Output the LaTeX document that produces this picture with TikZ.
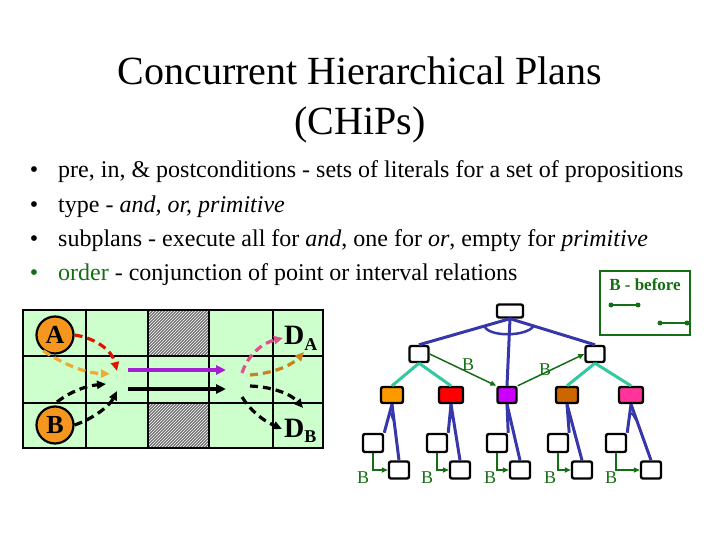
\documentclass[tikz,border=0pt]{standalone}
\usepackage{fontspec}
\setmainfont{Liberation Serif}
\usetikzlibrary{arrows.meta,patterns,calc}
\definecolor{gridgreen}{RGB}{204,255,204}
\definecolor{ordgreen}{RGB}{20,110,20}
\definecolor{treeblue}{RGB}{55,55,170}
\definecolor{teal2}{RGB}{50,200,160}
\definecolor{circorange}{RGB}{245,150,30}
\definecolor{cred}{RGB}{225,20,0}
\definecolor{corange}{RGB}{240,170,50}
\definecolor{cpink}{RGB}{225,80,140}
\definecolor{cbrown}{RGB}{200,130,30}
\definecolor{cviolet}{RGB}{165,30,210}
\definecolor{nOrange}{RGB}{255,153,0}
\definecolor{nRed}{RGB}{255,0,0}
\definecolor{nPurple}{RGB}{204,0,255}
\definecolor{nBrown}{RGB}{204,102,0}
\definecolor{nPink}{RGB}{255,51,153}
\begin{document}
\begin{tikzpicture}[x=1pt,y=-1pt,
  gline/.style={line width=2.8pt},
  dsh/.style={line width=3.2pt,dash pattern=on 8pt off 5pt,-{Triangle[length=9pt,width=8pt]}},
  bigarrow/.style={line width=3.2pt,-{Triangle[length=10pt,width=9pt]}},
  circnode/.style={circle,draw,line width=2.2pt,fill=circorange,minimum size=37pt,inner sep=0pt,font=\fontsize{26}{26}\selectfont\bfseries},
  dlab/.style={font=\fontsize{28}{28}\selectfont\bfseries,inner sep=0pt},
  tbox/.style={draw,line width=2.4pt,rounded corners=2pt,inner sep=0pt,minimum width=19pt,minimum height=16pt},
  blueln/.style={treeblue,line width=3pt},
  tealln/.style={teal2,line width=3pt},
  grarrow/.style={ordgreen,line width=1.5pt,-{Triangle[length=6pt,width=5pt]}},
  blab/.style={ordgreen,font=\fontsize{18}{18}\selectfont,inner sep=0pt},
  bultext/.style={anchor=base west,inner sep=0pt,font=\fontsize{24}{28}\selectfont},
  bul/.style={anchor=base,inner sep=0pt,font=\fontsize{24}{28}\selectfont}
]
\useasboundingbox (0,0) rectangle (720,540);

% Title
\node[anchor=base,inner sep=0pt,font=\fontsize{40}{48}\selectfont] (t1) at (360,85) {Concurrent Hierarchical Plans};
\node[anchor=base,inner sep=0pt,font=\fontsize{40}{48}\selectfont] (t2) at (360,135) {(CHiPs)};

% Bullets
\node[bul] (b1) at (34,178) {•};
\node[bultext] (l1) at (58,178) {pre, in, \& postconditions - sets of literals for a set of propositions};
\node[bul] (b2) at (34,212) {•};
\node[bultext] (l2) at (58,212) {type - \textit{and, or, primitive}};
\node[bul] (b3) at (34,246) {•};
\node[bultext] (l3) at (58,246) {subplans - execute all for \textit{and}, one for \textit{or}, empty for \textit{primitive}};
\node[bul,text=ordgreen] (b4) at (34,280) {•};
\node[bultext] (l4) at (58,280) {\textcolor{ordgreen}{order} - conjunction of point or interval relations};

% Legend
\draw[ordgreen,line width=1.2pt] (600,271) rectangle (690,335);
\node[ordgreen,inner sep=0pt,font=\fontsize{17}{17}\selectfont\bfseries] (leg) at (645,285) {B - before};
\coordinate (la1) at (611,305); \coordinate (la2) at (638,305);
\coordinate (lb1) at (660,323); \coordinate (lb2) at (687,323);
\draw[ordgreen,line width=1.5pt] (la1) -- (la2);
\draw[ordgreen,line width=1.5pt] (lb1) -- (lb2);
\foreach \p in {la1,la2,lb1,lb2} \fill[ordgreen] (\p) circle (2.5pt);

% Grid
\fill[gridgreen] (23,310) rectangle (323,448);
\fill[black!55] (148,310) rectangle (209,356);
\fill[black!55] (148,403) rectangle (209,448);
\fill[pattern=north east lines,pattern color=white] (148,310) rectangle (209,356);
\fill[pattern=north east lines,pattern color=white] (148,403) rectangle (209,448);
\draw[gline] (23,310) rectangle (323,448);
\foreach \x in {86,148,209,273} \draw[gline] (\x,310) -- (\x,448);
\foreach \y in {356,403} \draw[gline] (23,\y) -- (323,\y);

\node[circnode] (A) at (55,335) {A};
\node[circnode] (B) at (55,425) {B};
\node[dlab,anchor=base west] (DA) at (284,344) {D\raisebox{-6pt}{\fontsize{18}{18}\selectfont A}};
\node[dlab,anchor=base west] (DB) at (284,437) {D\raisebox{-5pt}{\fontsize{18}{18}\selectfont B}};

% left dashed arrows
\coordinate (r1) at (117,371);
\coordinate (o1) at (110,374);
\coordinate (k1) at (106,384);
\coordinate (k2) at (117,391);
\draw[dsh,cred] (A.east) .. controls (95,338) and (112,350) .. (r1);
\draw[dsh,corange] (A.south west) ++(2,2) .. controls (70,368) and (88,373) .. (o1);
\draw[dsh,black] (57,402) .. controls (70,392) and (85,386) .. (k1);
\draw[dsh,black] (B.east) .. controls (95,418) and (110,405) .. (k2);

% middle arrows
\coordinate (m1) at (128,370); \coordinate (m2) at (226,370);
\coordinate (m3) at (128,389); \coordinate (m4) at (226,389);
\draw[bigarrow,cviolet] (m1) -- (m2);
\draw[bigarrow,black] (m3) -- (m4);

% right dashed arrows
\coordinate (p0) at (242,373);
\coordinate (q0) at (250,375);
\coordinate (s0) at (250,386);
\coordinate (u0) at (242,397);
\draw[dsh,cpink] (p0) .. controls (248,355) and (262,343) .. (283,338);
\draw[dsh,cbrown] (q0) .. controls (275,373) and (292,365) .. (304,352);
\draw[dsh,black] (s0) .. controls (275,387) and (292,395) .. (303,408);
\draw[dsh,black] (u0) .. controls (250,410) and (262,420) .. (282,429);

% Tree
\node[tbox,minimum width=26pt,minimum height=13pt] (root) at (510,311) {};
\node[tbox] (lm) at (419,354) {};
\node[tbox] (rm) at (595,354) {};
\node[tbox,fill=nOrange,minimum width=22pt] (c1) at (392,395) {};
\node[tbox,fill=nRed,minimum width=24pt] (c2) at (451,395) {};
\node[tbox,fill=nPurple] (c3) at (507,395) {};
\node[tbox,fill=nBrown,minimum width=22pt] (c4) at (567,395) {};
\node[tbox,fill=nPink,minimum width=24pt] (c5) at (631,395) {};

\draw[blueln] (root.south) -- (lm.north);
\draw[blueln] (root.south) -- (c3.north);
\draw[blueln] (root.south) -- (rm.north);
\draw[blueln,line width=2.5pt] ($(root.south)!0.28!(lm.north)$) .. controls (488,337) and (526,337) .. ($(root.south)!0.28!(rm.north)$);

\draw[tealln] (lm.south) -- (c1.north);
\draw[tealln] (lm.south) -- (c2.north);
\draw[tealln] (rm.south) -- (c4.north);
\draw[tealln] (rm.south) -- (c5.north);

\draw[grarrow] (lm.east) -- (c3.north west);
\node[blab] (bl1) at (468,365) {B};
\draw[grarrow] (c3.north east) -- (rm.west);
\node[blab] (bl2) at (545,370) {B};

% leaves
\foreach \i/\xa/\xb/\xl in {1/373/399/363, 2/437/460/427, 3/497/520/490, 4/558/582/550, 5/616/651/611} {
  \node[tbox,minimum width=20pt,minimum height=18pt] (f\i) at (\xa,443) {};
  \node[tbox,minimum width=20pt,minimum height=17pt] (g\i) at (\xb,470) {};
  \draw[blueln] (c\i.south) -- (f\i.north east);
  \draw[blueln] (c\i.south) -- (g\i.north);
  \draw[blueln,line width=2pt] ($(c\i.south)!0.35!(f\i.north east)$) .. controls +(3,-3) and +(-3,-3) .. ($(c\i.south)!0.3!(g\i.north)$);
  \draw[grarrow] (f\i.south) |- (g\i.west);
  \node[blab] (bb\i) at (\xl,478) {B};
}
\end{tikzpicture}
\end{document}
